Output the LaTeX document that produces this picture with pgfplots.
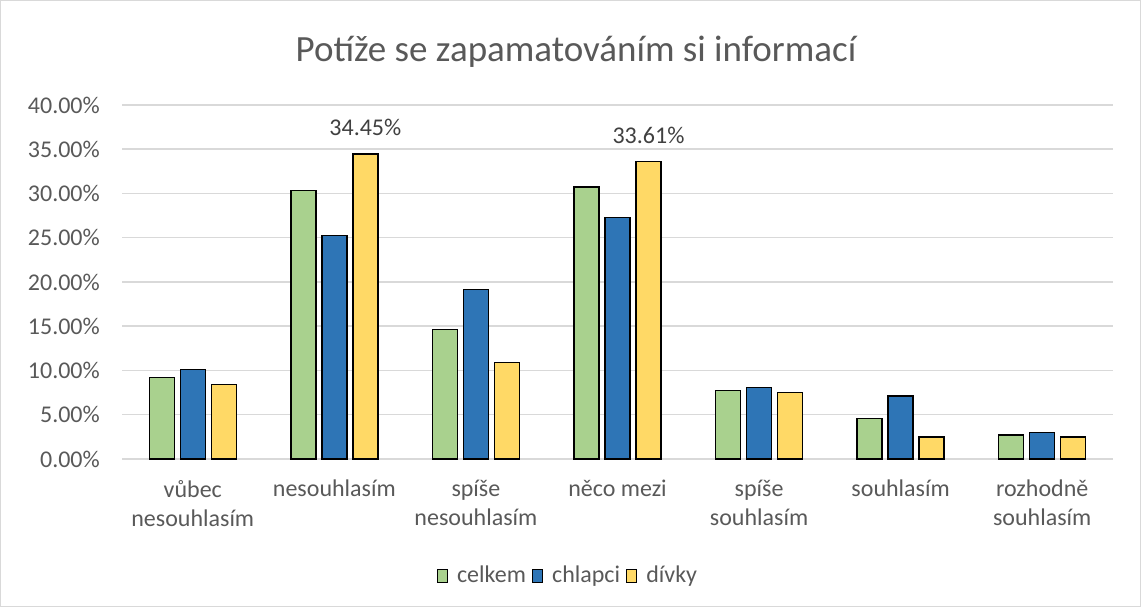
\documentclass[border=0pt]{standalone}
\usepackage{fontspec}
\setmainfont{Carlito}
\usepackage{pgfplots}
\pgfplotsset{compat=1.18}
\definecolor{cgreen}{HTML}{A9D18E}
\definecolor{cblue}{HTML}{2E75B6}
\definecolor{cyellow}{HTML}{FFD966}
\definecolor{ctext}{HTML}{595959}
\definecolor{cgrid}{HTML}{D9D9D9}
\begin{document}
\begin{tikzpicture}[x=1pt,y=1pt]
\draw[cgrid, line width=1pt] (0.5,0.5) rectangle (1140.5,606.5);
\node[text=ctext, font=\fontsize{37}{44}\selectfont] at (576,555) {Potíže se zapamatováním si informací};
\begin{axis}[
  at={(122pt,148pt)}, anchor=south west,
  scale only axis, width=991pt, height=354pt,
  ymin=0, ymax=40, ytick={0,5,...,40},
  xmin=-0.5, xmax=6.5, xtick=data,
  xticklabels={{vůbec\\nesouhlasím},{nesouhlasím},{spíše\\nesouhlasím},{něco mezi},{spíše\\souhlasím},{souhlasím},{rozhodně\\souhlasím}},
  ybar=6pt, bar width=25pt,
  axis line style={draw=none},
  major tick length=0pt,
  ymajorgrids, grid style={cgrid, line width=1.5pt},
  /pgf/number format/assume math mode=true,
  yticklabel={\pgfmathprintnumber[fixed,fixed zerofill,precision=2]{\tick}\%},
  yticklabel style={anchor=east, inner sep=0pt, xshift=-22pt, text=ctext, font=\fontsize{24}{29}\selectfont},
  xticklabel style={anchor=north, align=center, inner sep=0pt, yshift=-21pt, text=ctext, font=\fontsize{24}{29}\selectfont},
  legend columns=-1,
  legend style={at={(0.449,-0.328)}, anchor=center, draw=none, fill=none,
    font=\fontsize{24}{29}\selectfont, text=ctext, inner sep=0pt,
    nodes={inner sep=0pt},
    /tikz/every even column/.append style={column sep=6pt},
    /tikz/every odd column/.append style={column sep=9pt}},
  legend image code/.code={\draw[#1, draw=black, line width=1.2pt] (0pt,-7pt) rectangle (10pt,6pt);},
  every axis plot/.append style={draw=black, line width=1.3pt},
  clip=false,
]
\addplot[fill=cgreen] coordinates {(0,9.24) (1,30.30) (2,14.64) (3,30.72) (4,7.77) (5,4.60) (6,2.72)};
\addplot[fill=cblue] coordinates {(0,10.15) (1,25.29) (2,19.17) (3,27.29) (4,8.11) (5,7.13) (6,3.01)};
\addplot[fill=cyellow, point meta=explicit symbolic,
  nodes near coords, every node near coord/.append style={text=black!75, font=\fontsize{24}{29}\selectfont, yshift=14pt}]
  coordinates {(0,8.38)[] (1,34.45)[34.45\%] (2,10.94)[] (3,33.61)[33.61\%] (4,7.54)[] (5,2.49)[] (6,2.49)[]};
\legend{celkem, chlapci, dívky}
\end{axis}
\end{tikzpicture}
\end{document}
